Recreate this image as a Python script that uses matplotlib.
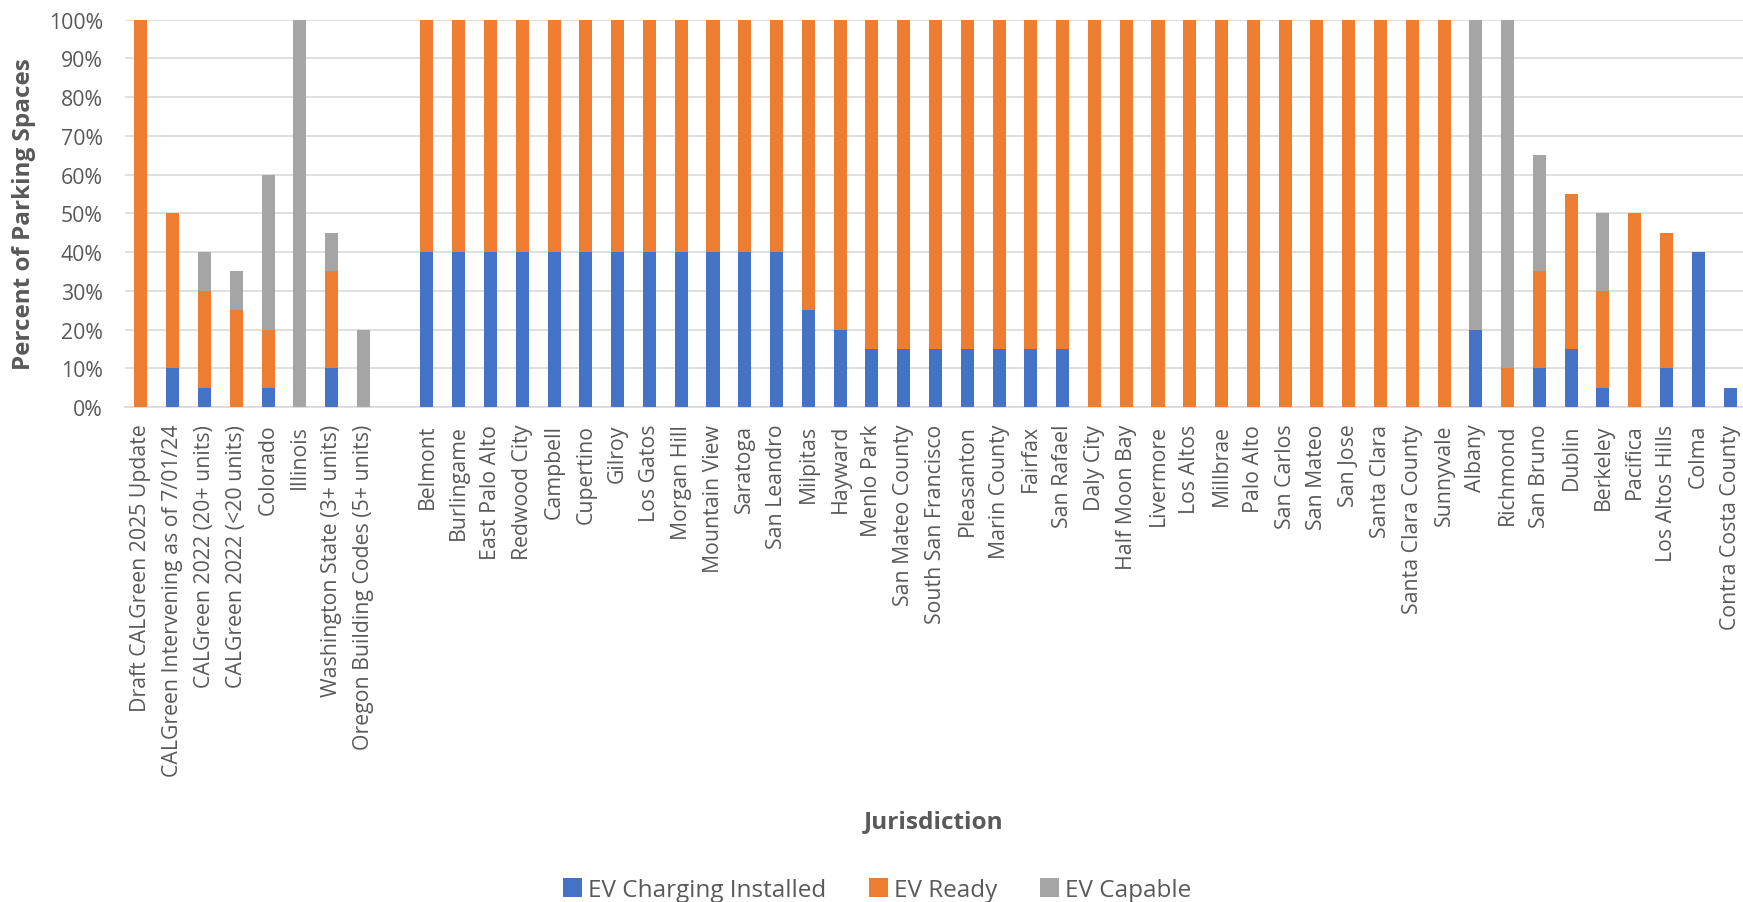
import matplotlib
matplotlib.use("Agg")
import matplotlib.pyplot as plt
import numpy as np
from matplotlib.patches import Patch

categories = [
    "Draft CALGreen 2025 Update", "CALGreen Intervening as of 7/01/24",
    "CALGreen 2022 (20+ units)", "CALGreen 2022 (<20 units)", "Colorado", "Illinois",
    "Washington State (3+ units)", "Oregon Building Codes (5+ units)", "",
    "Belmont", "Burlingame", "East Palo Alto", "Redwood City", "Campbell", "Cupertino",
    "Gilroy", "Los Gatos", "Morgan Hill", "Mountain View", "Saratoga", "San Leandro",
    "Milpitas", "Hayward", "Menlo Park", "San Mateo County", "South San Francisco",
    "Pleasanton", "Marin County", "Fairfax", "San Rafael", "Daly City", "Half Moon Bay",
    "Livermore", "Los Altos", "Millbrae", "Palo Alto", "San Carlos", "San Mateo",
    "San Jose", "Santa Clara", "Santa Clara County", "Sunnyvale", "Albany", "Richmond",
    "San Bruno", "Dublin", "Berkeley", "Pacifica", "Los Altos Hills", "Colma",
    "Contra Costa County",
]

installed = [0, 10, 5, 0, 5, 0, 10, 0, 0,
             40, 40, 40, 40, 40, 40, 40, 40, 40, 40, 40, 40,
             25, 20, 15, 15, 15, 15, 15, 15, 15,
             0, 0, 0, 0, 0, 0, 0, 0, 0, 0, 0, 0,
             20, 0, 10, 15, 5, 0, 10, 40, 5]
ready = [100, 40, 25, 25, 15, 0, 25, 0, 0,
         60, 60, 60, 60, 60, 60, 60, 60, 60, 60, 60, 60,
         75, 80, 85, 85, 85, 85, 85, 85, 85,
         100, 100, 100, 100, 100, 100, 100, 100, 100, 100, 100, 100,
         0, 10, 25, 40, 25, 50, 35, 0, 0]
capable = [0, 0, 10, 10, 40, 100, 10, 20, 0,
           0, 0, 0, 0, 0, 0, 0, 0, 0, 0, 0, 0,
           0, 0, 0, 0, 0, 0, 0, 0, 0,
           0, 0, 0, 0, 0, 0, 0, 0, 0, 0, 0, 0,
           80, 90, 30, 0, 20, 0, 0, 0, 0]

series_names = ["EV Charging Installed", "EV Ready", "EV Capable"]
colors = ["#4472C4", "#ED7D31", "#A5A5A5"]

plt.rcParams['font.family'] = ['Open Sans', 'DejaVu Sans']
txt = "#595959"

W, H = 1743, 903
fig = plt.figure(figsize=(W / 100, H / 100), dpi=100)
ax = fig.add_axes([125 / W, 1 - 408 / H, (1746 - 125) / W, (408 - 20.7) / H])

x = np.arange(len(categories))
inst = np.array(installed, float)
rdy = np.array(ready, float)
cap = np.array(capable, float)
bw = 0.41
ax.bar(x, inst, bw, color=colors[0], zorder=3)
ax.bar(x, rdy, bw, bottom=inst, color=colors[1], zorder=3)
ax.bar(x, cap, bw, bottom=inst + rdy, color=colors[2], zorder=3)

ax.set_xlim(-0.5, len(categories) - 0.5)
ax.set_ylim(0, 100)
ax.set_yticks(np.arange(0, 101, 10))
ax.set_yticklabels([f"{v}%" for v in range(0, 101, 10)])
ax.yaxis.grid(True, color="#D9D9D9", linewidth=1.2, zorder=0)
ax.set_axisbelow(True)
for s in ["top", "right", "left"]:
    ax.spines[s].set_visible(False)
ax.spines["bottom"].set_color("#D9D9D9")
ax.spines["bottom"].set_linewidth(1.2)
ax.set_xticks(x)
ax.set_xticklabels(categories, rotation=90, fontsize=15.3, color=txt)
ax.tick_params(axis="x", length=0, pad=12)
ax.tick_params(axis="y", length=0, pad=16, labelsize=15.3, labelcolor=txt)

fig.text(24 / W, 1 - 214 / H, "Percent of Parking Spaces", rotation=90, ha="center",
         va="center", fontsize=17.5, fontweight="bold", color=txt)
fig.text(934 / W, 1 - 822 / H, "Jurisdiction", ha="center", va="center",
         fontsize=17.6, fontweight="bold", color=txt)

handles = [Patch(facecolor=c, edgecolor="none") for c in colors]
fig.legend(handles, series_names, loc="center", bbox_to_anchor=(877 / W, 1 - 891 / H),
           ncol=3, frameon=False, fontsize=17.5, labelcolor=txt, handlelength=0.78,
           handleheight=0.78, handletextpad=0.25, columnspacing=1.77,
           borderpad=0, borderaxespad=0)

fig.savefig("out.png", dpi=100)
